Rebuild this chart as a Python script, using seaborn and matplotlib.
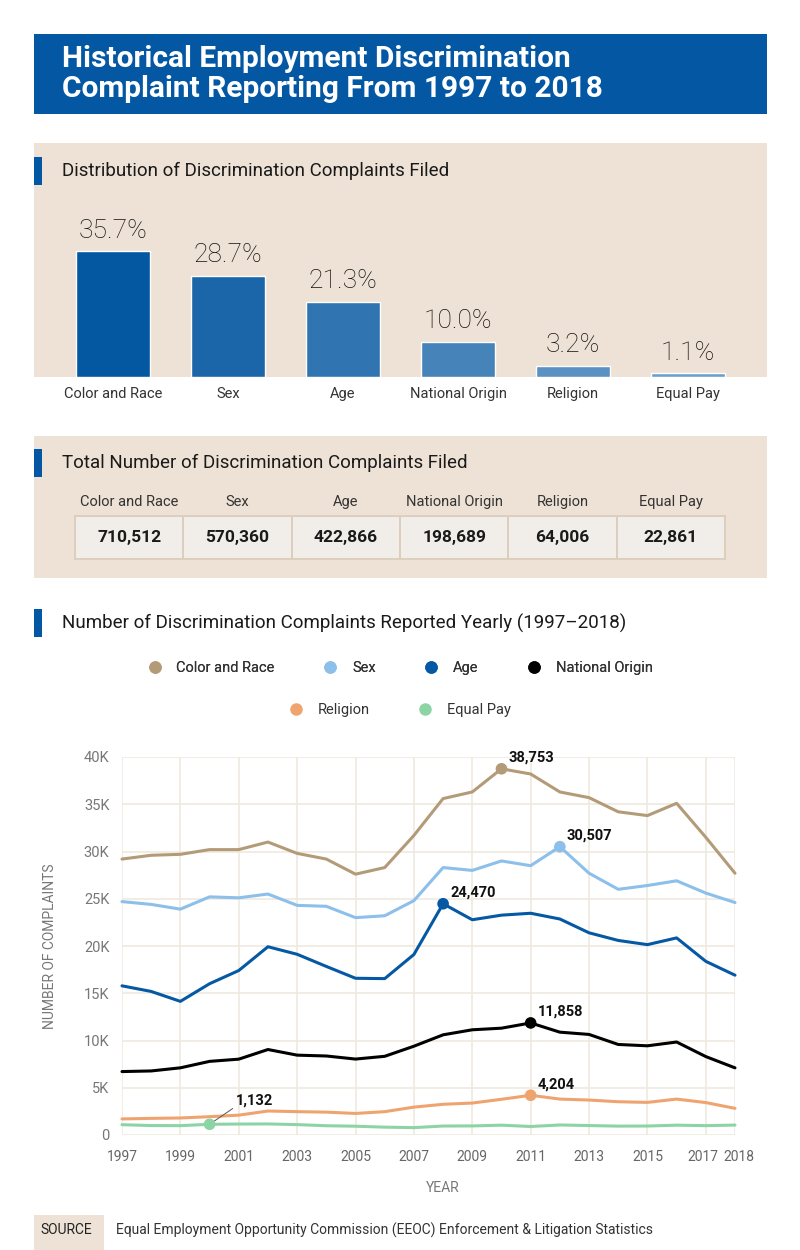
import numpy as np
import pandas as pd
import seaborn as sns
import matplotlib.pyplot as plt
import matplotlib.transforms as mtransforms
from matplotlib.patches import Rectangle
from matplotlib.lines import Line2D
from matplotlib.colors import ListedColormap

# ---- data ----
categories = ["Color and Race", "Sex", "Age", "National Origin", "Religion", "Equal Pay"]
share_pct = [35.7, 28.7, 21.3, 10.0, 3.2, 1.1]
totals = [710512, 570360, 422866, 198689, 64006, 22861]

years = list(range(1997, 2019))
color_race = [29200, 29600, 29700, 30200, 30200, 31000, 29800, 29200, 27600, 28300, 31700,
              35600, 36300, 38753, 38200, 36300, 35700, 34200, 33800, 35100, 31500, 27700]
sex = [24700, 24400, 23900, 25200, 25100, 25500, 24300, 24200, 23000, 23200, 24800,
       28300, 28000, 29000, 28500, 30507, 27700, 26000, 26400, 26900, 25600, 24600]
age = [15785, 15191, 14141, 16008, 17405, 19921, 19124, 17837, 16585, 16548, 19103,
       24470, 22778, 23264, 23465, 22857, 21396, 20588, 20144, 20857, 18376, 16911]
national_origin = [6712, 6778, 7108, 7792, 8025, 9046, 8450, 8361, 8035, 8327, 9396,
                   10601, 11134, 11304, 11858, 10883, 10642, 9579, 9438, 9840, 8299, 7106]
religion = [1700, 1760, 1800, 1940, 2100, 2540, 2470, 2420, 2280, 2470, 2950,
            3250, 3380, 3780, 4204, 3800, 3700, 3520, 3450, 3800, 3430, 2820]
equal_pay = [1090, 1000, 990, 1132, 1160, 1170, 1100, 980, 930, 830, 780,
             950, 960, 1040, 900, 1060, 1000, 940, 950, 1040, 990, 1050]

# peak points called out on the line chart
highlight_years = [2010, 2012, 2008, 2011, 2011, 2000]

bar_colors = ["#0457a1", "#1a66a9", "#3075b1", "#4683b9", "#5b91c2", "#6d9fcb"]
line_colors = ["#b39b78", "#8cbfea", "#0558a3", "#000000", "#efa470", "#8dd4a5"]

BLUE = "#0457a3"
BEIGE = "#ede2d5"
GRID = "#efe9df"
W, H = 800, 1250


def box(x0, y0, x1, y1):
    # pixel box (top-left origin) -> figure fraction rect
    return [x0 / W, 1 - y1 / H, (x1 - x0) / W, (y1 - y0) / H]


def fy(y):
    return 1 - y / H


def panel(x0, y0, x1, y1, color):
    fig.patches.append(Rectangle((x0 / W, fy(y1)), (x1 - x0) / W, (y1 - y0) / H,
                                 transform=fig.transFigure, facecolor=color,
                                 edgecolor="none", zorder=-1))


sns.set_theme(style="white")
plt.rcParams["font.family"] = ["Roboto", "DejaVu Sans"]

fig = plt.figure(figsize=(8, 12.5), dpi=100)
fig.patch.set_facecolor("white")

# ---- title banner ----
panel(34, 34, 767, 114, BLUE)
fig.text(62 / W, fy(59), "Historical Employment Discrimination", color="white",
         fontsize=21.5, fontweight="bold", va="center", ha="left")
fig.text(62 / W, fy(89), "Complaint Reporting From 1997 to 2018", color="white",
         fontsize=21.5, fontweight="bold", va="center", ha="left")


def section_header(y, text):
    fig.patches.append(Rectangle((34 / W, fy(y + 14)), 8 / W, 28 / H, transform=fig.transFigure,
                                 facecolor=BLUE, edgecolor="none", zorder=3))
    fig.text(62 / W, fy(y), text, fontsize=13.5, color="#1a1a1a", va="center", ha="left", zorder=4)


# ---- section 1: distribution bars ----
ax_b = fig.add_axes(box(34, 143, 767, 377))
ax_b.set_facecolor(BEIGE)
bar_df = pd.DataFrame({"category": categories, "share": share_pct})
sns.barplot(data=bar_df, x="category", y="share", hue="category", palette=bar_colors,
            legend=False, width=0.643, saturation=1, ax=ax_b)
ax_b.set_xlim(-79 / 115, (733 - 79) / 115)
ax_b.set_ylim(0, 234 / 3.53)
for cont in ax_b.containers:
    ax_b.bar_label(cont, labels=[f"{v:.1f}%" for v in cont.datavalues], padding=6,
                   fontsize=19, fontweight="light", color="#111111")
ax_b.set_xlabel("")
ax_b.set_ylabel("")
ax_b.set_yticks([])
ax_b.tick_params(axis="x", length=0, pad=7, labelsize=10.5, labelcolor="#333333")
for s in ax_b.spines.values():
    s.set_visible(False)
section_header(171, "Distribution of Discrimination Complaints Filed")

# ---- section 2: totals table ----
panel(34, 436, 767, 578, BEIGE)
section_header(463, "Total Number of Discrimination Complaints Filed")
ax_t = fig.add_axes(box(75, 516, 725, 559))
tot_df = pd.DataFrame([totals], columns=categories)
sns.heatmap(tot_df, annot=np.array([[f"{v:,}" for v in totals]]), fmt="",
            cmap=ListedColormap(["#f1eee9"]), cbar=False, linewidths=1.2, linecolor="#dccdbd",
            annot_kws=dict(fontsize=12.5, fontweight="bold", color="#1a1a1a"),
            yticklabels=False, ax=ax_t)
ax_t.xaxis.tick_top()
ax_t.set_xticklabels(categories, rotation=0, fontsize=10.5, color="#333333")
ax_t.tick_params(axis="x", length=0, pad=5)
for s in ax_t.spines.values():
    s.set_visible(True)
    s.set_color("#dccdbd")
    s.set_linewidth(1.2)

# ---- section 3: yearly lines ----
section_header(623, "Number of Discrimination Complaints Reported Yearly (1997\u20132018)")

series = [color_race, sex, age, national_origin, religion, equal_pay]
long_df = pd.DataFrame({
    "year": years * len(categories),
    "complaints": [v for s in series for v in s],
    "category": [c for c in categories for _ in years],
})
hl_df = pd.DataFrame({
    "year": highlight_years,
    "complaints": [s[years.index(y)] for s, y in zip(series, highlight_years)],
    "category": categories,
})

ax_l = fig.add_axes(box(122, 757, 735, 1135))
sns.lineplot(data=long_df, x="year", y="complaints", hue="category", hue_order=categories,
             palette=line_colors, linewidth=2.2, legend=False, ax=ax_l, clip_on=False)
sns.scatterplot(data=hl_df, x="year", y="complaints", hue="category", hue_order=categories,
                palette=line_colors, s=70, edgecolor="none", legend=False, ax=ax_l,
                zorder=5, clip_on=False)

for (_, r) in hl_df.iterrows():
    if r["category"] == "Equal Pay":
        ax_l.annotate(f"{r['complaints']:,}", xy=(r["year"], r["complaints"]),
                      xytext=(19, 17), textcoords="offset points", fontsize=10.5,
                      fontweight="bold", color="#111111", va="center", ha="left",
                      arrowprops=dict(arrowstyle="-", color="#555555", lw=0.7,
                                      shrinkA=0, shrinkB=2, relpos=(0, 0.1)))
    else:
        ax_l.annotate(f"{r['complaints']:,}", xy=(r["year"], r["complaints"]),
                      xytext=(5, 8), textcoords="offset points", fontsize=10.5,
                      fontweight="bold", color="#111111", va="center", ha="left")

xticks = list(range(1997, 2018, 2)) + [2018]
ax_l.set_xlim(1997, 2018)
ax_l.set_ylim(0, 40000)
ax_l.set_xticks(xticks)
ax_l.set_xticklabels([str(y) for y in xticks])
ax_l.set_yticks(range(0, 40001, 5000))
ax_l.set_yticklabels(["0"] + [f"{k}K" for k in range(5, 41, 5)])
ax_l.grid(True, color=GRID, linewidth=1.2)
ax_l.set_axisbelow(True)
for s in ax_l.spines.values():
    s.set_visible(False)
ax_l.tick_params(axis="x", length=5, color=GRID, width=1.2, pad=6, labelsize=10,
                 labelcolor="#666666")
ax_l.tick_params(axis="y", length=0, pad=9, labelsize=10.5, labelcolor="#777777")
# pull the last two crowded year labels apart
xlabels = ax_l.get_xticklabels()
xlabels[-2].set_transform(xlabels[-2].get_transform() +
                          mtransforms.ScaledTranslation(-3 / 100, 0, fig.dpi_scale_trans))
xlabels[-1].set_transform(xlabels[-1].get_transform() +
                          mtransforms.ScaledTranslation(4 / 100, 0, fig.dpi_scale_trans))
ax_l.set_xlabel("YEAR", fontsize=10, color="#777777")
ax_l.set_ylabel("NUMBER OF COMPLAINTS", fontsize=10, color="#777777")
ax_l.xaxis.set_label_coords((443 - 122) / 613, -46 / 378)
ax_l.yaxis.set_label_coords(-65 / 613, 0.5)

# legend in two centred rows
handles = [Line2D([0], [0], marker="o", linestyle="none", markersize=9,
                  markerfacecolor=c, markeredgecolor="none") for c in line_colors]
leg_kw = dict(frameon=False, handlelength=1.0, handletextpad=1.0, columnspacing=3.3,
              loc="center", prop={"size": 10.5}, labelcolor="#333333")
leg1 = fig.legend(handles[:4], categories[:4], ncol=4, bbox_to_anchor=(0.5, fy(668)), **leg_kw)
fig.legend(handles[4:], categories[4:], ncol=2, bbox_to_anchor=(0.5, fy(710)), **leg_kw)
fig.add_artist(leg1)

# ---- source ----
panel(34, 1215, 104, 1250, BEIGE)
fig.text(40 / W, fy(1230), "SOURCE", fontsize=10, color="#222222", va="center", ha="left")
fig.text(116 / W, fy(1230),
         "Equal Employment Opportunity Commission (EEOC) Enforcement & Litigation Statistics",
         fontsize=10, color="#333333", va="center", ha="left")

fig.savefig("out.png", dpi=100, facecolor="white")
